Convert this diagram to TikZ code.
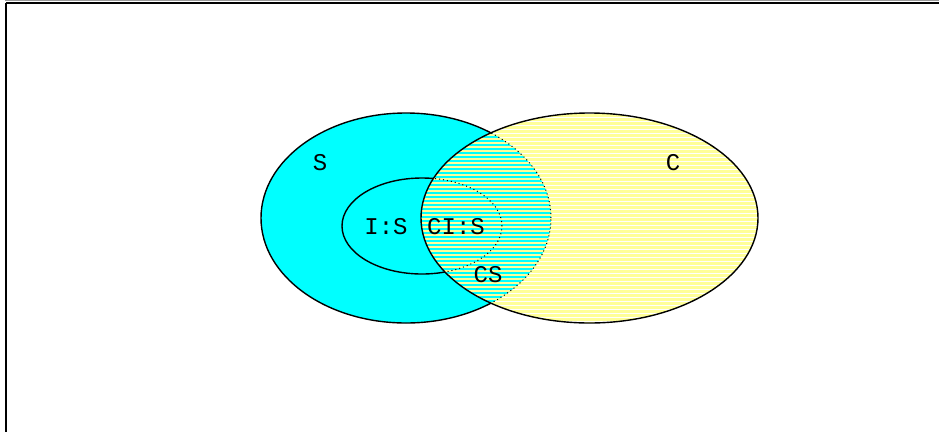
\documentclass[tikz,border=0pt]{standalone}
\usepackage{fontspec}
\setmonofont{Liberation Mono}
\definecolor{cy}{RGB}{0,255,255}
\definecolor{ye}{RGB}{255,255,153}
\tikzset{
  lbl/.style={font=\ttfamily\fontsize{24}{24}\selectfont, inner sep=0pt, text=black},
  edge/.style={draw=black, line width=1.4pt},
  dotedge/.style={draw=black, line width=1pt, dash pattern=on 1pt off 3pt},
}
\begin{document}
\begin{tikzpicture}[x=1pt,y=-1pt]
\useasboundingbox (0,0) rectangle (939,432);
\fill[white] (0,0) rectangle (939,432);
% frame (top and left only visible)
\draw[black!40, line width=1pt] (5,0.5) -- (939,0.5);
\draw[black, line width=2pt] (6,2.5) -- (939,2.5);
\draw[black, line width=2pt] (6,2.5) -- (6,432);
% S set
\coordinate (cS) at (406,218);
\coordinate (cC) at (589.5,218);
\coordinate (cI) at (422,226);
\fill[cy] (cS) ellipse [x radius=145pt, y radius=105pt];
\draw[edge] (cS) ellipse [x radius=145pt, y radius=105pt];
\draw[edge] (cI) ellipse [x radius=80pt, y radius=48pt];
% C set: striped fill
\begin{scope}
  \clip (cC) ellipse [x radius=168.5pt, y radius=105pt];
  \fill[white] (400,100) rectangle (780,340);
  \foreach \yy in {110,114,...,330} {
    \fill[ye] (400,\yy) rectangle (780,\yy+3);
  }
  \begin{scope}
    \clip (cS) ellipse [x radius=145pt, y radius=105pt];
    \fill[cy] (400,100) rectangle (780,340);
    \foreach \yy in {110,114,...,330} {
      \fill[ye] (400,\yy) rectangle (780,\yy+2);
    }
  \end{scope}
  \draw[dotedge] (cS) ellipse [x radius=145pt, y radius=105pt];
  \draw[dotedge] (cI) ellipse [x radius=80pt, y radius=48pt];
\end{scope}
\draw[edge] (cC) ellipse [x radius=168.5pt, y radius=105pt];
% labels
\node[lbl] (lS) at (320,163) {S};
\node[lbl] (lC) at (673,163) {C};
\node[lbl] (lIS) at (386,227) {I:S};
\node[lbl] (lCIS) at (456,227) {CI:S};
\node[lbl] (lCS) at (488,275) {CS};
\end{tikzpicture}
\end{document}
